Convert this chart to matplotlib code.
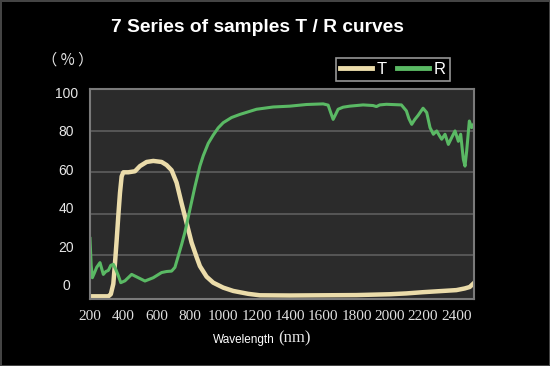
import numpy as np
import matplotlib
matplotlib.use("Agg")
import matplotlib.pyplot as plt

# data
t_wl = [200, 310, 325, 340, 350, 360, 370, 380, 390, 400, 430, 470, 500, 540, 580,
        630, 660, 690, 720, 750, 780, 810, 840, 860, 900, 940, 1000, 1060, 1150,
        1220, 1400, 1600, 1800, 2000, 2100, 2200, 2300, 2400, 2450, 2480, 2500]
t_val = [0, 0, 1, 6, 16, 27, 39, 50, 58, 60, 60, 60.5, 63, 65, 65.5,
         65, 63.5, 61, 55, 45, 35.5, 26, 19, 14.6, 9.5, 6.6, 4.2, 2.6, 1.2,
         0.5, 0.4, 0.5, 0.6, 1.0, 1.4, 2.0, 2.5, 3.0, 3.8, 4.5, 6.0]

r_wl = [200, 207, 214, 225, 240, 260, 280, 295, 310, 325, 340, 355, 370, 385,
        410, 450, 490, 530, 580, 630, 660, 690, 710, 730, 750, 770, 800, 830,
        860, 880, 910, 940, 970, 1000, 1050, 1100, 1200, 1300, 1400, 1500, 1600,
        1630, 1645, 1660, 1675, 1690, 1720, 1760, 1840, 1900, 1920, 1940, 1980,
        2070, 2100, 2115, 2132, 2150, 2170, 2200, 2222, 2242, 2262, 2282, 2300,
        2312, 2332, 2352, 2372, 2392, 2412, 2426, 2442, 2452, 2462, 2478, 2492, 2502]
r_val = [28, 15, 9, 11, 14, 16.3, 10.6, 12, 12.5, 15, 15.5, 13, 10, 6.6,
         7.5, 10.6, 9, 7.4, 9, 11.5, 12, 12.2, 14, 19.5, 25, 31, 42, 53,
         63, 68, 74, 78, 81.5, 84, 86.5, 88, 90.5, 91.6, 92, 92.8, 93.1,
         92.5, 89, 85.6, 88, 90.5, 91.5, 92, 92.6, 92.3, 91.8, 92.6, 92.9,
         92.6, 89.7, 86, 83.2, 85.5, 87.5, 91, 88.9, 81.6, 78.4, 80, 77.5,
         76, 78.4, 73.5, 76.8, 80, 75, 78.4, 66.3, 63, 70.3, 84.8, 81.6, 83]

x_ticks = list(range(200, 2401, 200))
y_labels = ["0", "20", "40", "60", "80", "100"]

T_COLOR = "#ebdcaa"
R_COLOR = "#5ab964"

fig = plt.figure(figsize=(5.5, 3.66), dpi=100, facecolor="black")
fig.patch.set_edgecolor("#444444")
fig.patch.set_linewidth(2)

ax = fig.add_axes([90 / 550, 1 - 299 / 366, 384 / 550, 210 / 366])
ax.set_facecolor("#2b2b2b")

ax.plot(t_wl, t_val, color=T_COLOR, lw=3.2, label="T", solid_joinstyle="round")
ax.plot(r_wl, r_val, color=R_COLOR, lw=2.2, label="R", solid_joinstyle="round")

ax.set_xlim(200, 2506)
ax.set_ylim(-1.3, 100.3)

# gridlines at the major ticks, labels sit on minor ticks (they drift in the original)
ax.set_yticks([20, 40, 60, 80])
ax.set_yticklabels([])
ax.set_yticks(np.linspace(5.5, 98.8, 6), minor=True)
ax.set_yticklabels(y_labels, minor=True)
ax.grid(axis="y", which="major", color="#5a5a5a", lw=1.3)
ax.tick_params(axis="y", which="both", length=0, pad=17, colors="#e6e6e6", labelsize=10)
for lab in ax.get_yticklabels(minor=True):
    lab.set_horizontalalignment("center")
    lab.set_family("Liberation Sans")

ax.set_xticks(x_ticks)
ax.tick_params(axis="x", length=0, pad=8, colors="#e0e0e0", labelsize=11)
for lab in ax.get_xticklabels():
    lab.set_family("Liberation Serif")

for s in ax.spines.values():
    s.set_color("#7a7a7a")
    s.set_linewidth(1.5)

leg = ax.legend(ncol=2, loc="upper right", bbox_to_anchor=(450 / 550, 1 - 58 / 366),
                bbox_transform=fig.transFigure, borderaxespad=0, frameon=True,
                facecolor="black", edgecolor="#bbbbbb", fancybox=False,
                handlelength=1.9, handletextpad=0.3, columnspacing=0.6,
                borderpad=0.25, prop={"family": "Liberation Sans", "size": 12})
leg.get_frame().set_linewidth(1.2)
for txt in leg.get_texts():
    txt.set_color("white")
for h in leg.get_lines():
    h.set_linewidth(3.5)

fig.text(257.5 / 550, 1 - 28 / 366, "7 Series of samples T / R curves", color="white",
         ha="center", va="center", fontsize=13.8, fontweight="bold", family="Liberation Sans")
fig.text(68 / 550, 1 - 60 / 366, "（ % ）", color="#e6e6e6", ha="center", va="center",
         fontsize=11, family=["Noto Sans CJK SC", "DejaVu Sans"])
fig.text(275 / 550, 1 - 340 / 366, "Wavelength", color="white", ha="right", va="center",
         fontsize=8.5, family="Liberation Sans")
fig.text(278 / 550, 1 - 338 / 366, "(nm)", color="#e6e6e6", ha="left", va="center",
         fontsize=12, family="Liberation Serif")

fig.savefig("out.png", dpi=100, facecolor=fig.get_facecolor(), edgecolor=fig.patch.get_edgecolor())
